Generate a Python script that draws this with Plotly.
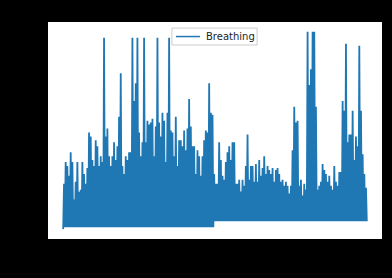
import plotly.graph_objects as go

# Peak values of each breathing oscillation (left to right)
peaks = [23, 34, 32, 27, 39, 34, 15, 24, 34, 19, 20, 34, 28, 23, 31, 49, 47, 35, 32, 45,
         42, 32, 37, 34, 97, 47, 51, 37, 32, 37, 44, 35, 42, 57, 79, 32, 28, 37, 35, 39,
         39, 97, 65, 74, 97, 49, 37, 44, 97, 44, 55, 53, 54, 56, 37, 52, 97, 54, 47, 59,
         55, 34, 59, 97, 50, 49, 37, 57, 32, 45, 45, 42, 50, 40, 51, 66, 52, 42, 42, 28,
         40, 37, 27, 37, 45, 50, 49, 74, 59, 58,
         28, 23, 23, 44, 35, 27, 25, 34, 39, 42, 35, 44, 44, 23, 23, 25, 19, 25, 22, 32,
         48, 25, 32, 32, 24, 33, 24, 35, 27, 31, 37, 28, 32, 30, 28, 31, 24, 30, 31, 28,
         24, 25, 22, 24, 22, 18, 22, 40, 62, 54, 55, 22, 25, 17, 23, 20, 100, 73, 81, 100,
         100, 62, 20, 22, 24, 33, 30, 28, 24, 27, 22, 20, 32, 24, 22, 29, 29, 65, 60, 94,
         44, 48, 48, 60, 35, 47, 42, 93, 60, 38, 28, 21]

# Trough value after each peak (baseline shifts up part-way through the recording)
n_left = 90
low_left = 1
low_right = 4
lows = [low_left] * n_left + [low_right] * (len(peaks) - n_left)
start_value = 0
series_name = "Breathing"

y = [start_value]
for p, lo in zip(peaks, lows):
    y.append(p)
    y.append(lo)
x = list(range(len(y)))
n = len(y) - 1

fig = go.Figure()
fig.add_trace(go.Scatter(x=x, y=y, mode="lines", name=series_name, showlegend=False,
                         line=dict(color="#1f77b4", width=1.8)))

# matplotlib-style legend box
fig.add_shape(type="rect", xref="paper", yref="paper", x0=0.371, x1=0.626, y0=0.894, y1=0.972,
              fillcolor="rgba(255,255,255,0.85)", line=dict(color="#cccccc", width=1))
fig.add_shape(type="line", xref="paper", yref="paper", x0=0.383, x1=0.455, y0=0.933, y1=0.933,
              line=dict(color="#1f77b4", width=1.5))
fig.add_annotation(xref="paper", yref="paper", x=0.467, y=0.933, xanchor="left", yanchor="middle",
                   text=series_name, showarrow=False,
                   font=dict(family="DejaVu Sans", size=10, color="#222222"))

fig.update_layout(
    width=392, height=278,
    margin=dict(l=48, r=10, t=22, b=39),
    paper_bgcolor="black",
    plot_bgcolor="white",
    font=dict(family="DejaVu Sans", size=10, color="black"),
)
fig.update_xaxes(range=[-0.05 * n, 1.05 * n], showgrid=False, zeroline=False,
                 showline=True, linecolor="black", mirror=True,
                 ticks="outside", tickcolor="black", tickfont=dict(color="black"))
fig.update_yaxes(range=[-5, 105], showgrid=False, zeroline=False,
                 showline=True, linecolor="black", mirror=True,
                 ticks="outside", tickcolor="black", tickfont=dict(color="black"))

fig.write_html("out.html")
